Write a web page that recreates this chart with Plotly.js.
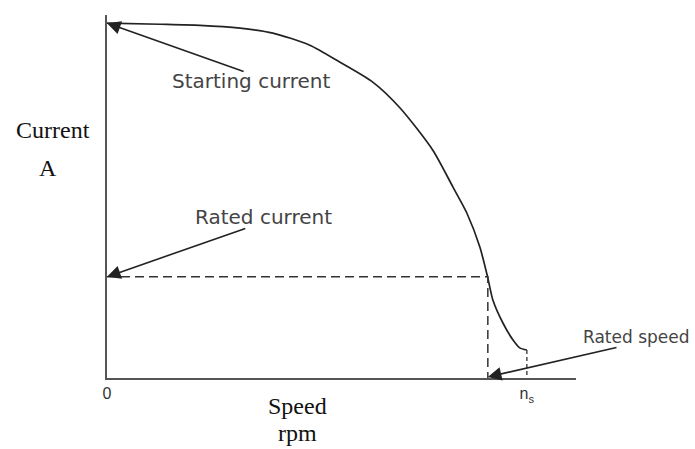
<!DOCTYPE html>
<html>
<head>
<meta charset="utf-8">
<script src="https://cdn.plot.ly/plotly-3.0.1.min.js"></script>
<style>html,body{margin:0;padding:0;background:#fff;}#chart{width:695px;height:449px;}</style>
</head>
<body>
<div id="chart"></div>
<script>
// Speed as fraction of synchronous speed ns, current as fraction of starting current
const speed = [0, 0.126, 0.221, 0.317, 0.395, 0.483, 0.555, 0.633, 0.698, 0.776, 0.824, 0.857, 0.888, 0.907, 0.919, 0.943, 0.967, 0.983, 1.0];
const current = [1.0, 0.997, 0.994, 0.986, 0.972, 0.938, 0.890, 0.834, 0.761, 0.642, 0.538, 0.465, 0.369, 0.282, 0.220, 0.155, 0.107, 0.085, 0.079];
const ratedSpeed = 0.907;
const ratedCurrent = 0.285;
const startingCurrent = 1.0;
const syncSpeed = 1.0;
const noLoadCurrent = 0.079;
const tickVals = [0, syncSpeed];
const tickText = ["0", "n<sub>s</sub>"];

const W = 695, H = 449, ML = 107, MR = 119, MT = 15, MB = 71;
const PW = W - ML - MR, PH = H - MT - MB;
function px(x) { return (x - ML) / PW; }
function py(y) { return (H - MB - y) / PH; }

const dashStyle = {color: '#333', width: 1.5, dash: '9px,5px'};
const traces = [
  {x: speed, y: current, mode: 'lines', line: {color: '#222', width: 1.7, shape: 'spline', smoothing: 0.7}, hoverinfo: 'skip'},
  {x: [0, ratedSpeed, ratedSpeed], y: [ratedCurrent, ratedCurrent, 0], mode: 'lines', line: dashStyle, hoverinfo: 'skip'},
  {x: [syncSpeed, syncSpeed], y: [noLoadCurrent, 0], mode: 'lines', line: {color: '#333', width: 1.3, dash: '4px,3px'}, hoverinfo: 'skip'}
];

const arrowCommon = {showarrow: true, arrowhead: 2, arrowsize: 1.7, arrowwidth: 1.6, arrowcolor: '#222', axref: 'x', ayref: 'y', text: '', standoff: 0};
const sans = {family: 'DejaVu Sans, Verdana, sans-serif', size: 20, color: '#444'};
const sansSmall = {family: 'DejaVu Sans, Verdana, sans-serif', size: 17, color: '#444'};
const serif = {family: 'Liberation Serif, Times New Roman, serif', size: 24, color: '#111'};
function label(text, x, y, font) {
  return {x: px(x), y: py(y), xref: 'paper', yref: 'paper', xanchor: 'center', yanchor: 'middle', text: text, showarrow: false, font: font};
}

const layout = {
  width: W, height: H,
  margin: {l: ML, r: MR, t: MT, b: MB},
  paper_bgcolor: '#fff', plot_bgcolor: '#fff',
  showlegend: false,
  xaxis: {range: [0, 1.117], showline: true, linecolor: '#555', linewidth: 2, showgrid: false, zeroline: false,
          tickvals: tickVals, ticktext: tickText, ticks: '', tickfont: {family: 'Liberation Sans, Arial, sans-serif', size: 16, color: '#333'}, fixedrange: true},
  yaxis: {range: [0, 1.023], showline: true, linecolor: '#555', linewidth: 2, showgrid: false, zeroline: false,
          showticklabels: false, ticks: '', fixedrange: true},
  annotations: [
    Object.assign({}, arrowCommon, {x: 0, y: startingCurrent, ax: 0.329, ay: 0.862}),
    Object.assign({}, arrowCommon, {x: 0, y: ratedCurrent, ax: 0.333, ay: 0.423}),
    Object.assign({}, arrowCommon, {x: ratedSpeed, y: 0.003, ax: 1.217, ay: 0.087}),
    label('Starting current', 251, 81, sans),
    label('Rated current', 263, 217, sans),
    label('Rated speed', 636, 337, sansSmall),
    label('Current', 53, 130, serif),
    label('A', 48, 168, serif),
    label('Speed', 297, 406, serif),
    label('rpm', 297, 433, serif)
  ]
};
Plotly.newPlot('chart', traces, layout, {displayModeBar: false, staticPlot: true});
</script>
</body>
</html>
